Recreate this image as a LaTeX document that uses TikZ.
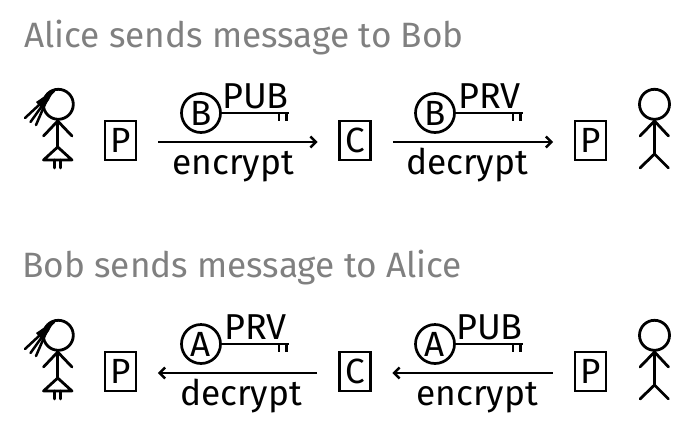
\documentclass[tikz,border=0pt]{standalone}
\usepackage{fontspec}
\setmainfont{Fira Sans}
\definecolor{titlegrey}{HTML}{808080}
\usetikzlibrary{arrows.meta}
\tikzset{
  x=1pt,y=-1pt,
  ink/.style={line width=2.8pt,draw=black},
  figure/.style={ink,line cap=round,line join=round},
  box/.style={draw=black,line width=2.8pt,minimum width=31pt,minimum height=39pt,inner sep=0pt,font=\fontsize{35}{35}\selectfont,anchor=center},
  keyhead/.style={circle,draw=black,line width=2.7pt,minimum size=39pt,inner sep=0pt,font=\fontsize{35}{35}\selectfont},
  keylabel/.style={inner sep=0pt,anchor=base,font=\fontsize{36}{36}\selectfont},
  oplabel/.style={inner sep=0pt,anchor=base,font=\fontsize{35.3}{35.3}\selectfont},
  titletext/.style={inner sep=0pt,anchor=base west,text=titlegrey,font=\fontsize{35.2}{35.2}\selectfont},
  msg/.style={line width=2.7pt,draw=black,-{Straight Barb[length=5.5pt,width=11pt,line width=2.4pt]},shorten <=21pt,shorten >=20.5pt},
}
\newcommand{\alicefig}[1]{%
  \begin{scope}[yshift=-#1pt]
    \draw[figure] (58.3,104.3) circle (15);
    \draw[figure] (57.7,119.5) -- (57.7,147);
    \draw[figure] (43.5,136) -- (57.7,121) -- (72,136);
    \draw[figure] (57.7,147) -- (43.5,160) -- (72,160) -- cycle;
    \draw[figure] (54.3,160) -- (54.3,168);
    \draw[figure] (60.8,160) -- (60.8,168);
    \draw[figure,line width=2.5pt] (54,91) -- (25,118);
    \draw[figure,line width=2.5pt] (52,92) -- (30.5,122);
    \draw[figure,line width=2.5pt] (49,95) -- (36,125);
    \fill (54,89.7) -- (36,102) -- (42,109) -- (49,100) -- cycle;
  \end{scope}}
\newcommand{\bobfig}[1]{%
  \begin{scope}[yshift=-#1pt]
    \draw[figure] (654.5,104.3) circle (15);
    \draw[figure] (654.5,119.5) -- (654.5,154);
    \draw[figure] (640,136) -- (654.5,121) -- (668.5,136);
    \draw[figure] (640,168) -- (654.5,154) -- (668.5,168);
  \end{scope}}
\newcommand{\keysym}[5]{%
  \node[keyhead] (#1) at (#2,#3) {#4};
  \coordinate (#1end) at (#2+87.5,#3);
  \draw[ink] (#1) -- (#1end);
  \draw[ink,line width=2.2pt] (#2+78,#3) -- (#2+78,#3+8);
  \draw[ink,line width=2.2pt] (#2+85.5,#3) -- (#2+85.5,#3+8);
  \node[keylabel] (#1lab) at (#2+54.5,#3-5) {#5};}
\begin{document}
\begin{tikzpicture}
\useasboundingbox (0,0) rectangle (693,429);
\node[titletext] (t1) at (24,47) {Alice sends message to Bob};
\alicefig{0}
\node[box] (p1) at (120.5,140.5) {P};
\node[box] (c1) at (355,140.5) {C};
\node[box] (p2) at (590.5,140.5) {P};
\bobfig{0}
\draw[msg,transform canvas={yshift=-1.5pt}] (p1) -- (c1);
\draw[msg,transform canvas={yshift=-1.5pt}] (c1) -- (p2);
\keysym{kb1}{201}{113}{B}{PUB}
\keysym{kb2}{435}{113}{B}{PRV}
\node[oplabel] (e1) at (233,174) {encrypt};
\node[oplabel] (d1) at (467,174) {decrypt};
\node[titletext] (t2) at (22,277) {Bob sends message to Alice};
\alicefig{231}
\node[box] (p3) at (120.5,371.5) {P};
\node[box] (c2) at (355,371.5) {C};
\node[box] (p4) at (590.5,371.5) {P};
\bobfig{231}
\draw[msg,transform canvas={yshift=-1.5pt}] (c2) -- (p3);
\draw[msg,transform canvas={yshift=-1.5pt}] (p4) -- (c2);
\keysym{ka1}{201}{344}{A}{PRV}
\keysym{ka2}{435}{344}{A}{PUB}
\node[oplabel] (d2) at (241,405) {decrypt};
\node[oplabel] (e2) at (477,405) {encrypt};
\end{tikzpicture}
\end{document}
